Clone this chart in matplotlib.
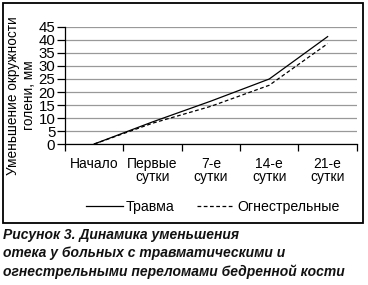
import numpy as np
import matplotlib
matplotlib.use("Agg")
import matplotlib.pyplot as plt
from matplotlib.patches import Rectangle

plt.rcParams['font.family'] = ['Liberation Sans', 'DejaVu Sans']

categories = ["Начало", "Первые\nсутки", "7-е\nсутки", "14-е\nсутки", "21-е\nсутки"]
trauma = [0, 8.5, 16.5, 25, 41.3]
gunshot = [0, 8, 14.5, 22.6, 38.6]

fig = plt.figure(figsize=(3.68, 2.85), dpi=100)
ax = fig.add_axes([0.1766, 0.4947, 0.793, 0.4106])

x = np.arange(len(categories))
ax.plot(x, trauma, color="black", lw=0.9, label="Травма")
ax.plot(x, gunshot, color="black", lw=0.9, ls=(0, (3, 2)), label="Огнестрельные")

ax.set_ylim(0, 45)
ax.set_yticks(np.arange(0, 46, 5))
ax.set_xlim(-0.5, len(categories) - 0.5)
ax.set_xticks(np.arange(-0.5, len(categories), 1))
ax.set_xticklabels([])
ax.set_xticks(x, minor=True)
ax.set_xticklabels(categories, minor=True, fontsize=10, linespacing=0.95)
ax.tick_params(axis="x", which="minor", length=0, pad=9)
ax.tick_params(axis="x", which="major", length=5, width=0.9, direction="out")
ax.tick_params(axis="y", length=6, width=0.9, pad=1, labelsize=10.8)
ax.grid(axis="y", color="#999999", lw=0.9)
ax.set_axisbelow(True)
for s in ["top", "right"]:
    ax.spines[s].set_visible(False)
for s in ["left", "bottom"]:
    ax.spines[s].set_linewidth(0.9)

fig.text(0.057, 0.665, "Уменьшение окружности\nголени, мм", rotation=90,
         ha="center", va="center", fontsize=9.8, multialignment="center",
         linespacing=1.25)

fig.legend(loc="center", bbox_to_anchor=(0.578, 0.275), ncol=2, frameon=False,
           fontsize=10.2, handlelength=2.6, handletextpad=0.2, columnspacing=1.6)

fig.patches.append(Rectangle((3 / 368, 1 - 223 / 285), 360 / 368, 220 / 285,
                             transform=fig.transFigure, fill=False,
                             edgecolor="black", lw=1.3))

caption = ["Рисунок 3. Динамика уменьшения",
           "отека у больных с травматическими и",
           "огнестрельными переломами бедренной кости"]
for i, line in enumerate(caption):
    fig.text(0.008, 1 - (235 + 18.3 * i) / 285, line, fontsize=10,
             fontweight="bold", fontstyle="italic", va="center", ha="left",
             color="#111111")

fig.savefig("out.png", dpi=100)
